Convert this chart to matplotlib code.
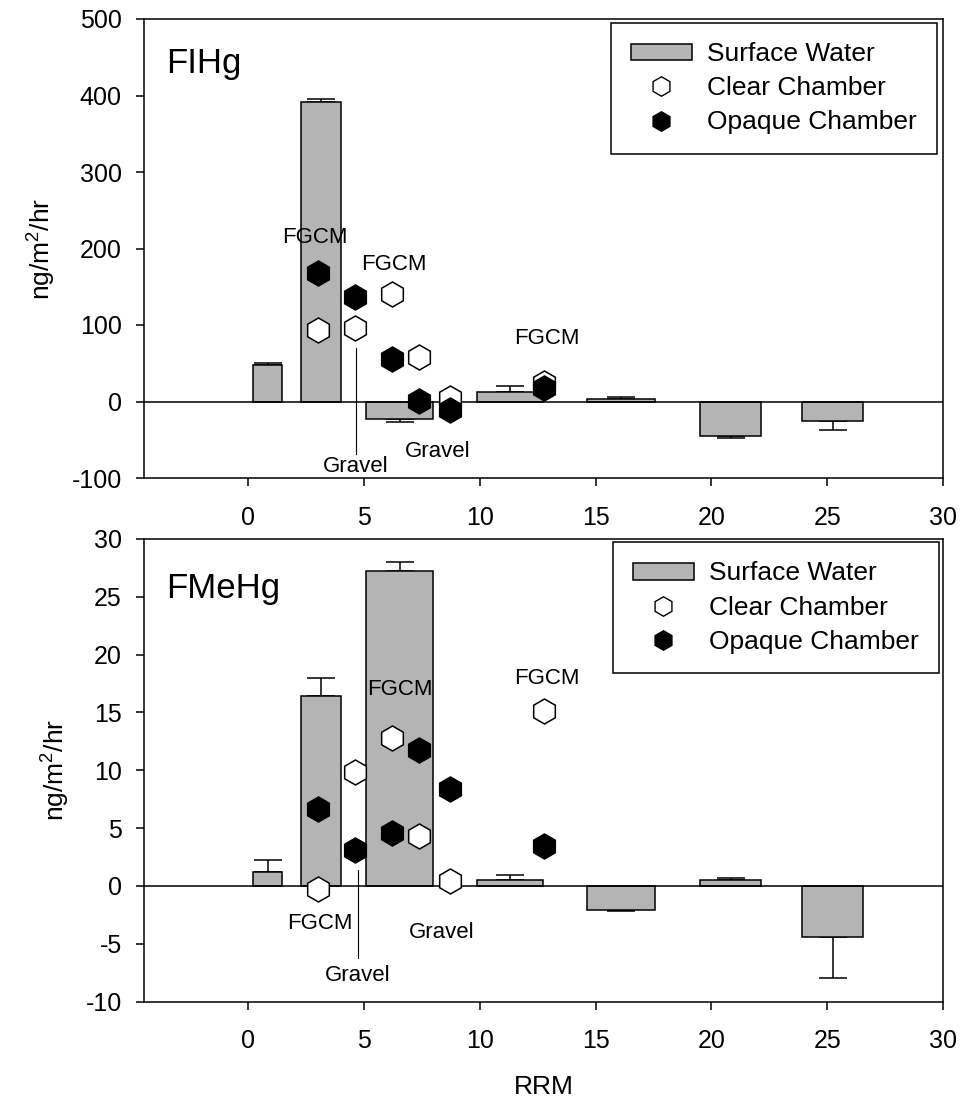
import matplotlib
matplotlib.use("Agg")
import matplotlib.pyplot as plt
from matplotlib.patches import Patch
from matplotlib.lines import Line2D

plt.rcParams['font.family'] = ['Liberation Sans', 'DejaVu Sans']
plt.rcParams['axes.unicode_minus'] = False
plt.rcParams['mathtext.fontset'] = 'custom'
plt.rcParams['mathtext.rm'] = 'Liberation Sans'
plt.rcParams['mathtext.it'] = 'Liberation Sans'
plt.rcParams['mathtext.default'] = 'regular'

# ---------------- data ----------------
bar_x = [0.84, 3.15, 6.55, 11.32, 16.09, 20.83, 25.23]
bar_w = [1.28, 1.70, 2.89, 2.85, 2.95, 2.66, 2.63]

fihg_sw = [47.4, 391, -22.6, 12, 3.5, -45.7, -25.7]
fihg_sw_err = [3, 4.5, 4.8, 8, 3, 1.7, 12.2]
fmehg_sw = [1.21, 16.44, 27.2, 0.55, -2.05, 0.49, -4.42]
fmehg_sw_err = [1.04, 1.5, 0.8, 0.4, 0.12, 0.2, 3.53]

chamber_x = [3.01, 4.60, 6.20, 7.39, 8.71, 12.78]
fihg_clear = [94, 96, 141, 58.3, 4, 24.5]
fihg_opaque = [168, 136.7, 56, 1.3, -11.7, 17.2]
fmehg_clear = [-0.29, 9.88, 12.77, 4.33, 0.43, 15.16]
fmehg_opaque = [6.65, 3.12, 4.54, 11.75, 8.38, 3.47]

x_ticks = [0, 5, 10, 15, 20, 25, 30]
fihg_yticks = [-100, 0, 100, 200, 300, 400, 500]
fmehg_yticks = [-10, -5, 0, 5, 10, 15, 20, 25, 30]

legend_labels = ['Surface Water', 'Clear Chamber', 'Opaque Chamber']

# annotations: (text, x, y) in data coordinates
fihg_notes = [('FGCM', 2.86, 215), ('FGCM', 6.31, 179), ('FGCM', 12.88, 82),
              ('Gravel', 4.65, -84.5), ('Gravel', 8.18, -65)]
fihg_leader = (4.65, 70, -69)
fmehg_notes = [('FGCM', 6.56, 16.96), ('FGCM', 12.9, 17.9), ('FGCM', 3.08, -3.23),
               ('Gravel', 4.72, -7.71), ('Gravel', 8.36, -4.05)]
fmehg_leader = (4.72, 1.36, -6.2)

# ---------------- figure ----------------
W, H = 971, 1099
fig = plt.figure(figsize=(W / 100, H / 100), dpi=100)
ax1 = fig.add_axes([144 / W, 1 - 478 / H, 799 / W, 459 / H])
ax2 = fig.add_axes([144 / W, 1 - 1001.5 / H, 799 / W, 462.5 / H])

BAR_COLOR = '#b4b4b4'
FS = 18
LEG_FS = 19


def panel(ax, sw, sw_err, clear, opaque, yticks, ylim, title, title_y, notes, leader, leg_anchor):
    ax.bar(bar_x, sw, width=bar_w, color=BAR_COLOR, edgecolor='black', linewidth=1.1, zorder=2)
    lower = [e if v < 0 else 0 for v, e in zip(sw, sw_err)]
    upper = [e if v >= 0 else 0 for v, e in zip(sw, sw_err)]
    ax.errorbar(bar_x, sw, yerr=[lower, upper], fmt='none', ecolor='black',
                elinewidth=1.1, capsize=10, capthick=1.1, zorder=1.5)
    ax.axhline(0, color='black', linewidth=1.1, zorder=3)
    ax.plot(chamber_x, clear, linestyle='none', marker='h', markersize=18,
            markerfacecolor='white', markeredgecolor='black', markeredgewidth=1.1, zorder=4)
    ax.plot(chamber_x, opaque, linestyle='none', marker='h', markersize=18,
            markerfacecolor='black', markeredgecolor='black', markeredgewidth=1.1, zorder=5)
    for txt, x, y in notes:
        ax.text(x, y, txt, ha='center', va='center', fontsize=16, zorder=6)
    lx, ly0, ly1 = leader
    ax.plot([lx, lx], [ly0, ly1], color='black', linewidth=0.8, zorder=3)
    ax.text(0.028, title_y, title, transform=ax.transAxes, ha='left', va='center', fontsize=25)

    ax.set_xlim(-4.5, 30)
    ax.set_ylim(*ylim)
    ax.set_xticks(x_ticks)
    ax.set_yticks(yticks)
    ax.tick_params(axis='both', direction='out', length=6, width=1.1, labelsize=FS)
    ax.tick_params(axis='x', pad=14)
    ax.tick_params(axis='y', pad=10)
    for s in ax.spines.values():
        s.set_linewidth(1.1)
    ax.set_ylabel('ng/m$^{2}$/hr', fontsize=FS + 1, labelpad=10)

    handles = [Patch(facecolor=BAR_COLOR, edgecolor='black', linewidth=1.1),
               Line2D([], [], linestyle='none', marker='h', markersize=14,
                      markerfacecolor='white', markeredgecolor='black'),
               Line2D([], [], linestyle='none', marker='h', markersize=14,
                      markerfacecolor='black', markeredgecolor='black')]
    leg = ax.legend(handles, legend_labels, loc='upper right', bbox_to_anchor=leg_anchor,
                    bbox_transform=ax.transAxes, borderaxespad=0, fontsize=LEG_FS,
                    fancybox=False, framealpha=1, edgecolor='black', borderpad=0.75,
                    labelspacing=0.38, handlelength=2.33, handletextpad=0.58, handleheight=0.6)
    leg.get_frame().set_linewidth(1.1)
    leg.set_zorder(10)


panel(ax1, fihg_sw, fihg_sw_err, fihg_clear, fihg_opaque, fihg_yticks, (-100, 500),
      'FIHg', 0.904, fihg_notes, fihg_leader, (1 - 6 / 799, 1 - 3.5 / 459))
panel(ax2, fmehg_sw, fmehg_sw_err, fmehg_clear, fmehg_opaque, fmehg_yticks, (-10, 30),
      'FMeHg', 0.894, fmehg_notes, fmehg_leader, (1 - 4 / 799, 1 - 2.7 / 462))
ax2.set_xlabel('RRM', fontsize=FS + 1, labelpad=16)

fig.savefig('out.png', dpi=100)
